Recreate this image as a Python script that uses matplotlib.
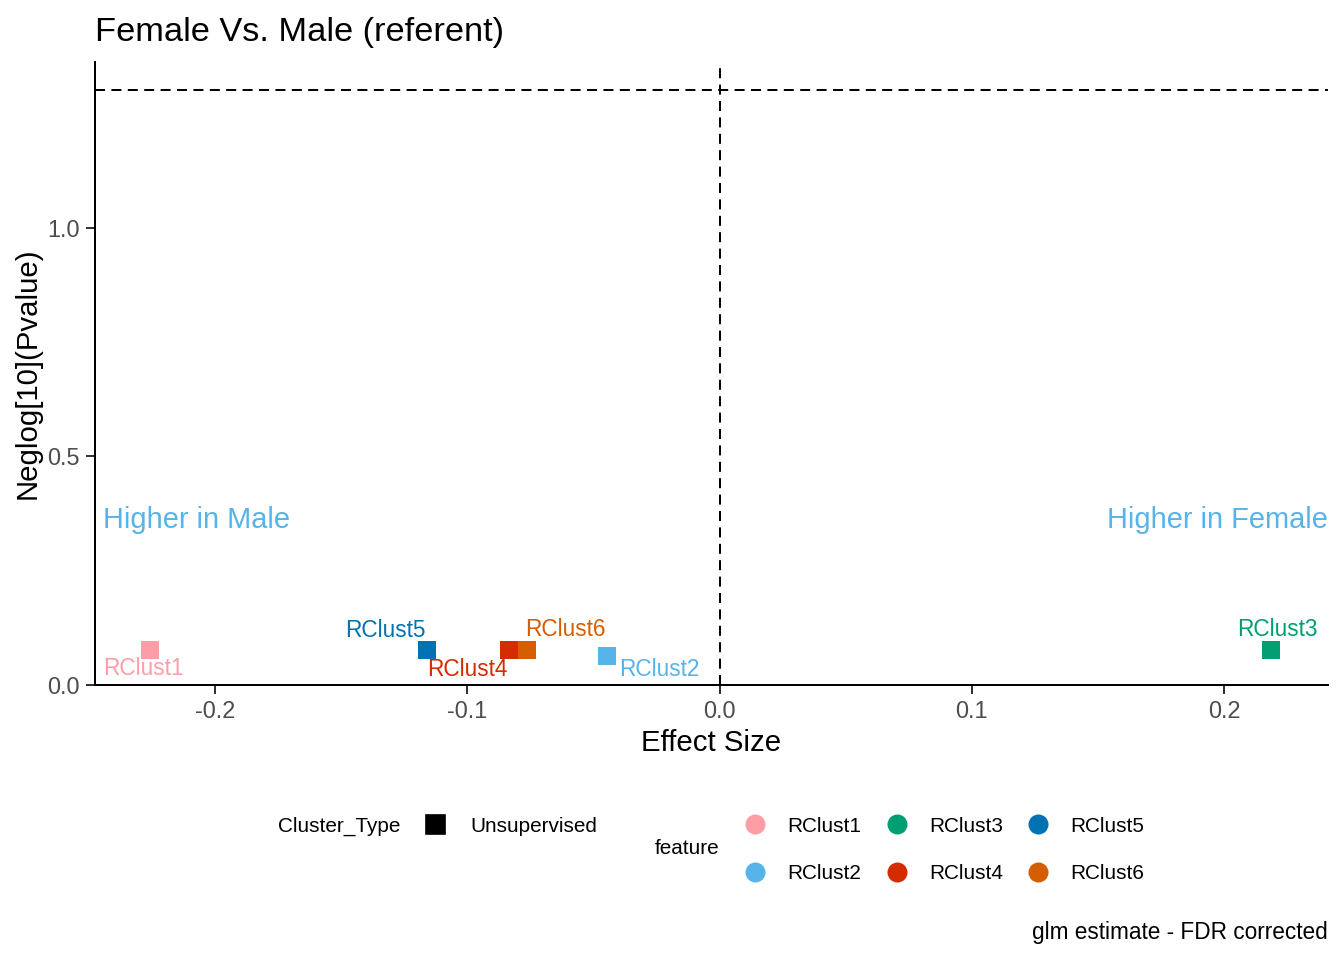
import matplotlib
matplotlib.use("Agg")
import matplotlib.pyplot as plt
from matplotlib.lines import Line2D

plt.rcParams['font.family'] = ['Liberation Sans', 'DejaVu Sans']

# data
features = ["RClust1", "RClust2", "RClust3", "RClust4", "RClust5", "RClust6"]
effect_size = [-0.2259, -0.0448, 0.2188, -0.0836, -0.1161, -0.0765]
neglog_p = [0.077, 0.064, 0.077, 0.077, 0.077, 0.077]
colors = ["#FF9DA7", "#56B4E9", "#009E73", "#D52B00", "#0072B2", "#D55E00"]
# repel-like label offsets in points (dx, dy)
label_offsets = [(-2.2, -7.1), (19.9, -5.2), (2.2, 7.6), (-15.7, -7.3), (-15.4, 7.2), (14.6, 7.6)]

x_ticks = [-0.2, -0.1, 0.0, 0.1, 0.2]
y_ticks = [0.0, 0.5, 1.0]
p_cut = 1.30103  # -log10(0.05)

fig = plt.figure(figsize=(7, 5), dpi=192)
ax = fig.add_axes([95 / 1344, 1 - 685 / 960, (1328 - 95) / 1344, (685 - 62) / 960])

ax.axhline(p_cut, color="black", lw=0.75, ls=(0, (5, 3.2)))
ax.axvline(0.0, color="black", lw=0.75, ls=(0, (5, 3.2)))

for f, x, y, c, off in zip(features, effect_size, neglog_p, colors, label_offsets):
    ax.scatter(x, y, marker="s", s=48, color=c, linewidths=0, zorder=3)
    ax.annotate(f, (x, y), xytext=off, textcoords="offset points",
                ha="center", va="center", color=c, fontsize=8.5)

ax.text(-0.2445, 0.362, "Higher in Male", color="#56B4E9", fontsize=10.9,
        ha="left", va="center")
ax.text(1.0, 0.362, "Higher in Female", transform=ax.get_yaxis_transform(),
        color="#56B4E9", fontsize=10.9, ha="right", va="center")

ax.set_xlim(-0.2476, 0.2412)
ax.set_ylim(0.0, 1.363)
ax.set_xticks(x_ticks)
ax.set_xticklabels([f"{t:.1f}" for t in x_ticks])
ax.set_yticks(y_ticks)
ax.set_yticklabels([f"{t:.1f}" for t in y_ticks])
ax.tick_params(colors="#333333", labelcolor="#4D4D4D", labelsize=8.8, length=3.3,
               width=0.75, pad=2.5)

for s in ["top", "right"]:
    ax.spines[s].set_visible(False)
for s in ["left", "bottom"]:
    ax.spines[s].set_linewidth(0.75)
    ax.spines[s].set_color("black")

ax.set_xlabel("Effect Size", fontsize=11, labelpad=2)
ax.set_ylabel("Neglog[10](Pvalue)", fontsize=11, labelpad=2.2)
ax.set_title("Female Vs. Male (referent)", fontsize=12.9, loc="left", pad=8)

# legends
fig.text(278 / 1344, 1 - 826 / 960, "Cluster_Type", fontsize=7.8, ha="left", va="center")
h_type = [Line2D([], [], marker="s", color="black", ls="", markersize=6.5)]
fig.legend(h_type, ["Unsupervised"], loc="center left",
           bbox_to_anchor=(425 / 1344, 1 - 826 / 960), frameon=False, fontsize=7.8,
           handlelength=1.0, handletextpad=1.2, borderpad=0, borderaxespad=0)

fig.text(655 / 1344, 1 - 849 / 960, "feature", fontsize=7.8, ha="left", va="center")
h_feat = [Line2D([], [], marker="o", color=c, ls="", markersize=6.5) for c in colors]
fig.legend(h_feat, features, ncol=3, loc="center left",
           bbox_to_anchor=(745 / 1344, 1 - 850 / 960), frameon=False, fontsize=7.8,
           handlelength=1.0, handletextpad=1.05, columnspacing=1.18, labelspacing=1.38,
           borderpad=0, borderaxespad=0)

fig.text(1328 / 1344, 1 - 933 / 960, "glm estimate - FDR corrected", fontsize=8.5,
         ha="right", va="center")

fig.savefig("out.png", dpi=192)
